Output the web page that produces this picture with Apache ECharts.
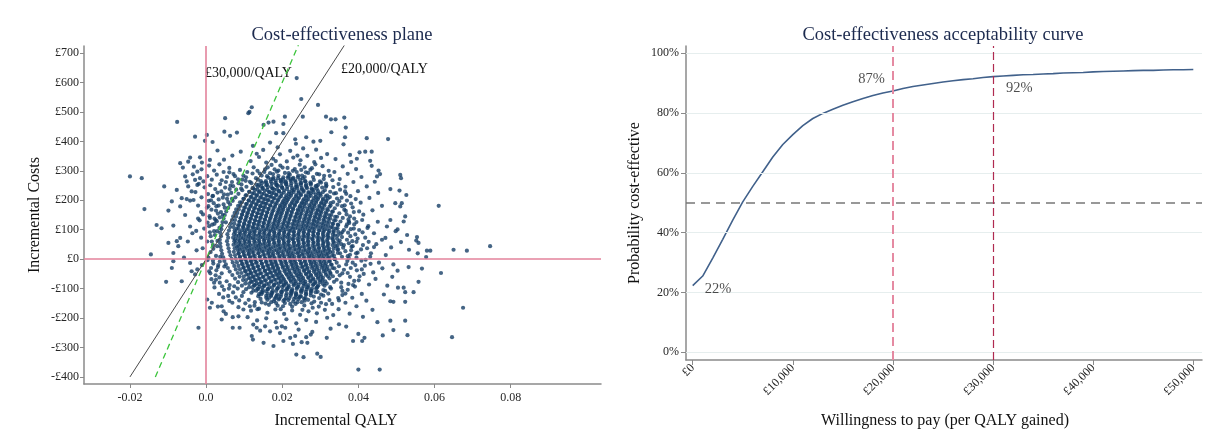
<!DOCTYPE html>
<html>
<head>
<meta charset="utf-8">
<script src="https://cdn.jsdelivr.net/npm/echarts@6/dist/echarts.min.js"></script>
<style>
html,body{margin:0;padding:0;background:#fff}
#chart{width:1223px;height:435px}
</style>
</head>
<body>
<div id="chart"></div>
<script>
// Probabilistic sensitivity analysis draws: [incremental QALY, incremental cost (£)]
const psaDraws = [
[-.0076,466],[-.0029,416],[.0002,422],[-.0003,402],[.0017,398],[.0050,479],[.0048,433],[.0063,419],[.0081,430],[.0111,496],[.0114,500],[.0120,516],[.0151,456],[.0164,464],[.0177,467],[.0203,459],[.0184,428],[.0203,428],[.0238,615],[.0250,544],[.0294,524],[.0254,484],[.0207,484],[.0315,484],[.0328,475],[.0340,475],[.0363,481],[.0367,447],[.0263,414],[.0422,411],[.0478,408],[.0329,431],[.0365,414],[.0361,390],[.0234,407],[.0282,399],[.0300,402],[.0030,369],[.0010,337],
[-.0042,345],[-.0047,331],[-.0016,346],[-.0011,328],[-.0068,326],[-.0061,311],[-.0032,314],[-.0023,297],[-.0200,281],[-.0169,275],[-.0110,247],[-.0077,235],[-.0090,196],[-.0064,207],[-.0051,204],[-.0042,199],[-.0033,201],[-.0162,170],[-.0099,165],[-.0068,179],[-.0130,116],[-.0117,105],[-.0086,114],[-.0042,111],[-.0055,281],[-.0051,264],[-.0047,247],[-.0038,230],[-.0029,269],[-.0023,252],[-.0016,275],[-.0007,264],[-.0145,16],[-.0099,55],[-.0077,61],[-.0073,44],[-.0086,21],[-.0068,72],[-.0086,-7],[-.0090,-30],[-.0042,-13],[-.0038,-41],[-.0029,-52],[-.0023,-35],[-.0105,-77],[-.0064,-75],[-.0020,-233],[-.0055,150],[-.0021,138],[-.0036,88],[-.0013,160],[-.0048,60],[-.0025,30],[-.0058,5],
[.0003,-137],[.0015,-148],[.0010,-165],[.0041,-160],[.0046,-177],[.0041,-205],[.0070,-197],[.0085,-194],[.0098,-171],[.0070,-233],[.0088,-233],[.0124,-222],[.0133,-233],[.0155,-228],[.0168,-245],[.0186,-233],[.0199,-228],[.0208,-233],[.0120,-261],[.0123,-273],[.0151,-284],[.0177,-295],[.0203,-278],[.0221,-267],[.0234,-261],[.0263,-265],[.0275,-256],[.0317,-267],[.0228,-288],[.0251,-282],[.0266,-284],[.0237,-324],[.0256,-333],[.0292,-321],[.0301,-332],[.0400,-375],[.0456,-375],[.0386,-278],[.0410,-278],[.0416,-267],[.0400,-254],[.0464,-259],[.0529,-258],[.0492,-241],[.0484,-209],[.0523,-209],[.0450,-214],[.0646,-265],[.0675,-165],
[.0746,44],[.0685,29],[.0650,32],[.0589,29],[.0580,29],[.0578,7],[.0556,20],[.0533,32],[.0554,75],[.0552,63],[.0558,55],[.0617,-47],[.0558,-77],[.0567,-32],[.0532,-27],[.0503,-39],[.0492,-18],[.0545,-112],[.0523,-112],[.0519,-97],[.0504,-97],[.0523,-145],[.0492,-145],[.0484,-143],[.0611,181],[.0510,286],[.0512,275],[.0526,218],[.0508,233],[.0484,238],[.0497,190],[.0510,179],[.0514,190],[.0453,301],[.0449,281],[.0457,289],[.0435,317],[.0431,334],[.0418,365],[.0435,365],[.0403,363],[.0396,341],[.0378,354],[.0523,145],[.0519,128],[.0484,133],[.0475,111],[.0498,95],[.0471,72],[.0512,58],[.0489,-60],[.0476,-90],[.0467,-120],[.0503,101],[.0528,82],
[-.0012,305],[.0008,318],[.0021,301],[.0035,322],[.0046,296],[.0061,310],[.0072,289],[.0089,303],[.0098,284],[-.0035,288],[.0003,282],[.0015,270],[.0028,287],[.0041,268],[.0055,279],[.0068,262],[.0084,271],[.0104,266],[-.0019,256],[-.0004,244],[.0011,251],[.0024,238],[.0037,255],[.0050,243],[.0064,250],[.0079,236],[.0093,254],[-.0028,228],[.0005,221],[.0017,214],[.0030,226],[.0044,209],[.0057,219],[.0068,205],[-.0012,210],[.0007,198],[.0020,190],[.0033,203],[.0046,186],[.0058,194],[-.0021,182],[.0002,175],[.0014,168],[.0027,180],[.0039,160],[-.0008,152],[.0009,146],[.0022,138],[.0031,155],[-.0017,132],[.0004,124],[.0016,117],[.0028,129],[-.0026,96],[-.0005,104],[.0010,91],[.0023,82],[-.0013,73],[.0003,60],[.0018,48],[-.0009,37],[.0012,24],[.0026,11],[.0004,-3],[.0019,-15],[.0031,-27],[-.0011,-20],[.0008,-41],[.0025,-55],[.0014,-68],[.0036,-80],[.0022,-96],[.0047,-104],[.0034,-118],[.0058,-125],[.0071,-113],
[.0372,-104],[.0391,-93],[.0358,-122],[.0384,-131],[.0409,-118],[.0366,-148],[.0395,-160],[.0421,-141],[.0348,-170],[.0377,-185],[.0412,-196],[.0437,-172],[.0389,-74],[.0403,-58],[.0428,-86],[.0445,-67],[.0396,-38],[.0417,-22],[.0439,-45],[.0463,-31],[.0408,-5],[.0431,8],[.0454,-12],[.0472,14],[.0398,22],[.0423,37],[.0447,51],[.0486,40],[.0395,59],[.0418,73],[.0441,88],[.0462,66],[.0402,99],[.0426,112],[.0451,127],[.0389,138],[.0413,151],[.0437,166],[.0462,181],[.0385,176],[.0406,192],[.0429,208],[.0452,225],[.0379,214],[.0399,231],[.0422,247],[.0443,263],[.0366,246],[.0387,262],[.0408,279],[.0351,272],[.0372,290],[.0394,306],[.0337,296],[.0359,315],[.0381,330],
[.0108,296],[.0125,312],[.0141,291],[.0155,305],[.0172,320],[.0186,297],[.0201,311],[.0217,292],[.0233,306],[.0246,321],[.0262,295],[.0278,309],[.0291,290],[.0306,316],[.0322,300],[.0117,333],[.0139,347],[.0158,328],[.0176,341],[.0194,356],[.0212,332],[.0229,345],[.0248,336],[.0266,351],[.0284,330],[.0302,344],[.0318,357],[.0150,371],[.0188,380],[.0221,368],[.0255,376],[.0289,372],[.0069,352],[.0091,365],[.0047,338],[.0340,340],[.0236,392],[.0168,396],[.0123,385],
[.0103,-150],[.0127,-158],[.0146,-147],[.0165,-155],[.0184,-149],[.0202,-160],[.0221,-152],[.0240,-146],[.0258,-157],[.0277,-150],[.0296,-161],[.0315,-153],[.0085,-163],[.0118,-175],[.0139,-168],[.0161,-182],[.0182,-171],[.0205,-186],[.0226,-174],[.0247,-189],[.0269,-177],[.0291,-184],[.0312,-172],[.0334,-190],[.0109,-197],[.0134,-208],[.0158,-201],[.0183,-214],[.0211,-204],[.0237,-218],[.0263,-207],[.0289,-213],[.0318,-199],[.0349,-221],[.0142,-243],[.0194,-251],[.0243,-239],[.0279,-247],[.0327,-236],[.0368,-229],[.0061,-142],[.0052,-186],[.0031,-161],
[.0012,78],[.0021,95],[.0008,112],[.0025,133],[.0015,60],[.0029,44],[.0006,5],[.0018,-5],[.0027,-38],[.0013,-30],[.0035,-62],[.0021,-80],[.0042,-92],[.0006,180],[.0026,165],[.0049,175],[.0036,142],[.0013,200],[.0040,230],[.0062,238],[.0052,262],[.0076,282],[.0061,295],
[.0135,300],[.0168,292],[.0195,318],[.0228,300],[.0259,312],[.0287,322],[.0183,333],[.0240,352],[.0133,358],[.0310,283],[.0332,268],[.0315,257],
[.0395,5],[.0412,48],[.0392,84],[.0389,118],[.0392,-20],[.0378,-60],[.0355,-95],[.0347,-132],[.0365,230],[.0348,255],
[.0386,-88],[.0401,-72],[.0372,-47],[.0409,-35],[.0385,-12],[.0419,-2],[.0394,20],[.0407,33],[.0385,44],[.0427,59],[.0398,70],[.0411,91],[.0388,104],[.0424,106],[.0395,126],[.0410,133],[.0378,145],[.0402,162],[.0381,189],[.0393,204],[.0370,199],[.0364,183],[.0356,209],[.0368,222],[.0352,236],[.0341,224],[.0334,245],[.0358,-108],[.0374,-84],[.0366,-117],[.0349,-140],[.0331,-152],[.0355,-80],[.0380,-30],[.0372,10],[.0362,48],[.0358,92],[.0370,118],[.0388,160],[.0375,128],[.0433,20],[.0414,-50],[.0441,41],[.0432,-16],
[.0026,-70],[.0041,-48],[.0032,-20],[.0019,35],[.0030,62],[.0022,120],[.0035,106],[.0044,150],[.0033,182],[.0055,205],[.0047,220],[.0066,225],[.0071,248],[.0085,258],[.0092,240],[.0060,-100],[.0054,-75],[.0045,-130],[.0078,-130],[.0069,-148],[.0011,-48],[.0048,-25],[.0037,8],[.0029,95],[.0010,140],[.0052,125],[.0018,215],[.0036,-8],[.0062,-88],
[.0105,278],[.0122,291],[.0146,284],[.0131,275],[.0153,296],[.0176,289],[.0190,301],[.0207,293],[.0220,287],[.0238,296],[.0252,284],[.0268,293],[.0281,279],[.0297,288],[.0309,272],[.0325,283],[.0299,264],[.0316,250],[.0115,263],[.0095,270],[.0180,305],[.0214,310],[.0250,303],[.0162,312],[.0274,304],
[.0094,-125],[.0112,-138],[.0128,-146],[.0143,-135],[.0156,-151],[.0171,-146],[.0188,-158],[.0207,-149],[.0226,-161],[.0235,-152],[.0251,-146],[.0268,-138],[.0284,-144],[.0297,-132],[.0308,-124],[.0321,-117],[.0324,-139],[.0302,-148],[.0115,-160],[.0135,-170],[.0196,-170],[.0253,-172],[.0280,-165],[.0087,-140],[.0313,-108],[.0328,-100],[.0098,-112],[.0083,-100],[.0074,-92],
[.0161,-138],[.0178,-143],[.0191,-137],[.0203,-142],[.0216,-139],[.0229,-144],[.0242,-136],[.0259,-141],
[.0137,-126],[.0158,-131],[.0171,-125],[.0183,-130],[.0196,-127],[.0210,-132],[.0222,-124],[.0235,-129],[.0247,-126],[.0261,-131],[.0283,-127],
[.0119,-114],[.0139,-119],[.0148,-113],[.0162,-118],[.0174,-115],[.0187,-120],[.0199,-112],[.0212,-117],[.0225,-114],[.0237,-119],[.0250,-113],[.0263,-118],[.0275,-115],[.0293,-111],[.0302,-120],
[.0105,-102],[.0124,-107],[.0137,-101],[.0149,-106],[.0162,-103],[.0175,-108],[.0188,-100],[.0201,-105],[.0213,-102],[.0226,-107],[.0238,-101],[.0252,-106],[.0264,-103],[.0277,-108],[.0289,-100],[.0308,-105],
[.0094,-90],[.0113,-95],[.0128,-89],[.0140,-94],[.0153,-91],[.0166,-96],[.0179,-88],[.0191,-93],[.0204,-90],[.0217,-95],[.0230,-89],[.0242,-94],[.0256,-91],[.0268,-96],[.0281,-88],[.0293,-93],[.0311,-90],[.0326,-95],
[.0084,-78],[.0103,-83],[.0121,-77],[.0133,-82],[.0146,-79],[.0159,-84],[.0172,-76],[.0184,-81],[.0197,-78],[.0210,-83],[.0223,-77],[.0236,-82],[.0248,-79],[.0261,-84],[.0274,-76],[.0287,-81],[.0299,-78],[.0317,-83],[.0336,-77],
[.0076,-66],[.0097,-71],[.0116,-65],[.0128,-70],[.0141,-67],[.0154,-72],[.0167,-64],[.0179,-69],[.0192,-66],[.0205,-71],[.0218,-65],[.0231,-70],[.0243,-67],[.0256,-72],[.0269,-64],[.0282,-69],[.0294,-66],[.0306,-71],[.0324,-65],[.0343,-70],
[.0069,-54],[.0088,-59],[.0111,-53],[.0123,-58],[.0136,-55],[.0149,-60],[.0161,-52],[.0174,-57],[.0187,-54],[.0200,-59],[.0212,-53],[.0225,-58],[.0238,-55],[.0251,-60],[.0263,-52],[.0276,-57],[.0289,-54],[.0302,-59],[.0315,-53],[.0333,-58],[.0351,-55],
[.0062,-42],[.0083,-47],[.0104,-41],[.0117,-46],[.0130,-43],[.0142,-48],[.0155,-40],[.0168,-45],[.0181,-42],[.0193,-47],[.0206,-41],[.0219,-46],[.0232,-43],[.0245,-48],[.0257,-40],[.0270,-45],[.0283,-42],[.0296,-47],[.0309,-41],[.0326,-46],[.0344,-43],[.0358,-48],
[.0057,-30],[.0078,-35],[.0099,-29],[.0112,-34],[.0125,-31],[.0138,-36],[.0150,-28],[.0163,-33],[.0176,-30],[.0189,-35],[.0201,-29],[.0214,-34],[.0227,-31],[.0240,-36],[.0252,-28],[.0265,-33],[.0278,-30],[.0291,-35],[.0304,-29],[.0317,-34],[.0337,-31],[.0362,-36],
[.0052,-18],[.0074,-23],[.0096,-17],[.0109,-22],[.0122,-19],[.0135,-24],[.0147,-16],[.0160,-21],[.0173,-18],[.0186,-23],[.0198,-17],[.0211,-22],[.0224,-19],[.0237,-24],[.0249,-16],[.0262,-21],[.0275,-18],[.0288,-23],[.0300,-17],[.0313,-22],[.0330,-19],[.0349,-24],[.0368,-18],
[.0048,-6],[.0070,-11],[.0093,-5],[.0106,-10],[.0119,-7],[.0131,-12],[.0144,-4],[.0157,-9],[.0170,-6],[.0182,-11],[.0195,-5],[.0208,-10],[.0221,-7],[.0233,-12],[.0246,-4],[.0259,-9],[.0272,-6],[.0284,-11],[.0297,-5],[.0310,-10],[.0323,-7],[.0343,-12],[.0371,-6],
[.0045,6],[.0067,1],[.0089,7],[.0103,2],[.0116,5],[.0128,0],[.0141,8],[.0154,3],[.0167,6],[.0179,1],[.0192,7],[.0205,2],[.0218,5],[.0230,0],[.0243,8],[.0256,3],[.0269,6],[.0281,1],[.0294,7],[.0307,2],[.0320,5],[.0338,0],[.0357,8],[.0375,3],
[.0042,18],[.0064,13],[.0085,19],[.0099,14],[.0112,17],[.0124,12],[.0137,20],[.0150,15],[.0163,18],[.0175,13],[.0188,19],[.0201,14],[.0214,17],[.0226,12],[.0239,20],[.0252,15],[.0265,18],[.0277,13],[.0290,19],[.0303,14],[.0316,17],[.0331,12],[.0352,20],[.0378,15],
[.0040,30],[.0061,25],[.0083,31],[.0096,26],[.0109,29],[.0121,24],[.0134,32],[.0147,27],[.0160,30],[.0172,25],[.0185,31],[.0198,26],[.0211,29],[.0223,24],[.0236,32],[.0249,27],[.0262,30],[.0274,25],[.0287,31],[.0300,26],[.0313,29],[.0326,24],[.0345,32],[.0366,27],[.0381,30],
[.0038,42],[.0059,37],[.0081,43],[.0093,38],[.0106,41],[.0119,36],[.0132,44],[.0144,39],[.0157,42],[.0170,37],[.0183,43],[.0195,38],[.0208,41],[.0221,36],[.0234,44],[.0246,39],[.0259,42],[.0272,37],[.0285,43],[.0297,38],[.0310,41],[.0323,36],[.0340,44],[.0360,39],[.0382,42],
[.0037,54],[.0057,49],[.0078,55],[.0091,50],[.0104,53],[.0116,48],[.0129,56],[.0142,51],[.0155,54],[.0167,49],[.0180,55],[.0193,50],[.0206,53],[.0218,48],[.0231,56],[.0244,51],[.0257,54],[.0269,49],[.0282,55],[.0295,50],[.0308,53],[.0320,48],[.0336,56],[.0355,51],[.0375,54],
[.0036,66],[.0055,61],[.0076,67],[.0089,62],[.0102,65],[.0114,60],[.0127,68],[.0140,63],[.0153,66],[.0165,61],[.0178,67],[.0191,62],[.0204,65],[.0216,60],[.0229,68],[.0242,63],[.0255,66],[.0267,61],[.0280,67],[.0293,62],[.0306,65],[.0318,60],[.0333,68],[.0351,63],[.0370,66],[.0384,61],
[.0039,78],[.0058,73],[.0079,79],[.0092,74],[.0105,77],[.0117,72],[.0130,80],[.0143,75],[.0156,78],[.0168,73],[.0181,79],[.0194,74],[.0207,77],[.0219,72],[.0232,80],[.0245,75],[.0258,78],[.0270,73],[.0283,79],[.0296,74],[.0309,77],[.0321,72],[.0338,80],[.0357,75],[.0379,78],
[.0037,90],[.0056,85],[.0077,91],[.0090,86],[.0103,89],[.0115,84],[.0128,92],[.0141,87],[.0154,90],[.0166,85],[.0179,91],[.0192,86],[.0205,89],[.0217,84],[.0230,92],[.0243,87],[.0256,90],[.0268,85],[.0281,91],[.0294,86],[.0307,89],[.0319,84],[.0335,92],[.0354,87],[.0373,90],
[.0040,102],[.0060,97],[.0080,103],[.0094,98],[.0107,101],[.0119,96],[.0132,104],[.0145,99],[.0158,102],[.0170,97],[.0183,103],[.0196,98],[.0209,101],[.0221,96],[.0234,104],[.0247,99],[.0260,102],[.0272,97],[.0285,103],[.0298,98],[.0311,101],[.0324,96],[.0341,104],[.0362,99],[.0380,102],
[.0041,114],[.0063,109],[.0084,115],[.0097,110],[.0110,113],[.0122,108],[.0135,116],[.0148,111],[.0161,114],[.0173,109],[.0186,115],[.0199,110],[.0212,113],[.0224,108],[.0237,116],[.0250,111],[.0263,114],[.0275,109],[.0288,115],[.0301,110],[.0314,113],[.0328,108],[.0347,116],[.0368,111],
[.0043,126],[.0065,121],[.0087,127],[.0100,122],[.0113,125],[.0125,120],[.0138,128],[.0151,123],[.0164,126],[.0176,121],[.0189,127],[.0202,122],[.0215,125],[.0227,120],[.0240,128],[.0253,123],[.0266,126],[.0278,121],[.0291,127],[.0304,122],[.0317,125],[.0332,120],[.0353,128],[.0376,123],
[.0046,138],[.0068,133],[.0090,139],[.0104,134],[.0117,137],[.0129,132],[.0142,140],[.0155,135],[.0168,138],[.0180,133],[.0193,139],[.0206,134],[.0219,137],[.0231,132],[.0244,140],[.0257,135],[.0270,138],[.0282,133],[.0295,139],[.0308,134],[.0321,137],[.0340,132],[.0359,140],[.0374,135],
[.0049,150],[.0071,145],[.0094,151],[.0107,146],[.0120,149],[.0132,144],[.0145,152],[.0158,147],[.0171,150],[.0183,145],[.0196,151],[.0209,146],[.0222,149],[.0234,144],[.0247,152],[.0260,147],[.0273,150],[.0285,145],[.0298,151],[.0311,146],[.0324,149],[.0344,144],[.0369,152],
[.0053,162],[.0075,157],[.0097,163],[.0110,158],[.0123,161],[.0136,156],[.0148,164],[.0161,159],[.0174,162],[.0187,157],[.0199,163],[.0212,158],[.0225,161],[.0238,156],[.0250,164],[.0263,159],[.0276,162],[.0289,157],[.0301,163],[.0314,158],[.0331,161],[.0350,156],[.0367,164],
[.0058,174],[.0079,169],[.0100,175],[.0113,170],[.0126,173],[.0139,168],[.0151,176],[.0164,171],[.0177,174],[.0190,169],[.0202,175],[.0215,170],[.0228,173],[.0241,168],[.0253,176],[.0266,171],[.0279,174],[.0292,169],[.0305,175],[.0318,170],[.0338,173],[.0363,168],
[.0063,186],[.0084,181],[.0105,187],[.0118,182],[.0131,185],[.0143,180],[.0156,188],[.0169,183],[.0182,186],[.0194,181],[.0207,187],[.0220,182],[.0233,185],[.0246,180],[.0258,188],[.0271,183],[.0284,186],[.0297,181],[.0310,187],[.0327,182],[.0345,185],[.0357,180],
[.0070,198],[.0089,193],[.0112,199],[.0124,194],[.0137,197],[.0150,192],[.0162,200],[.0175,195],[.0188,198],[.0201,193],[.0213,199],[.0226,194],[.0239,197],[.0252,192],[.0264,200],[.0277,195],[.0290,198],[.0303,193],[.0316,199],[.0334,194],[.0350,197],
[.0077,210],[.0098,205],[.0117,211],[.0129,206],[.0142,209],[.0155,204],[.0168,212],[.0180,207],[.0193,210],[.0206,205],[.0219,211],[.0232,206],[.0244,209],[.0257,204],[.0270,212],[.0283,207],[.0295,210],[.0307,205],[.0325,211],[.0344,206],
[.0085,222],[.0104,217],[.0122,223],[.0134,218],[.0147,221],[.0160,216],[.0173,224],[.0185,219],[.0198,222],[.0211,217],[.0224,223],[.0237,218],[.0249,221],[.0262,216],[.0275,224],[.0288,219],[.0300,222],[.0318,217],[.0336,223],
[.0095,234],[.0114,229],[.0128,235],[.0141,230],[.0154,233],[.0167,228],[.0179,236],[.0192,231],[.0205,234],[.0218,229],[.0231,235],[.0243,230],[.0256,233],[.0269,228],[.0282,236],[.0294,231],[.0312,234],[.0326,229],
[.0106,246],[.0124,241],[.0136,247],[.0149,242],[.0162,245],[.0175,240],[.0188,248],[.0200,243],[.0213,246],[.0226,241],[.0239,247],[.0251,242],[.0264,245],[.0277,240],[.0290,248],[.0305,243],[.0315,246],
[.0119,258],[.0139,253],[.0147,259],[.0160,254],[.0173,257],[.0186,252],[.0199,260],[.0211,255],[.0224,258],[.0237,253],[.0250,259],[.0263,254],[.0275,257],[.0294,252],[.0302,260],
[.0136,270],[.0157,265],[.0170,271],[.0183,266],[.0196,269],[.0209,264],[.0222,272],[.0234,267],[.0247,270],[.0260,265],[.0283,269],
[.0160,282],[.0177,277],[.0190,283],[.0203,278],[.0216,281],[.0229,276],[.0242,284],[.0259,279],
[.0166,-131],[.0180,-136],[.0192,-133],[.0206,-137],[.0219,-132],[.0231,-135],[.0245,-130],[.0257,-134],
[.0145,-119],[.0158,-124],[.0171,-121],[.0185,-125],[.0197,-120],[.0210,-123],[.0223,-118],[.0236,-122],[.0249,-126],[.0262,-120],[.0275,-123],
[.0132,-107],[.0145,-112],[.0158,-109],[.0172,-113],[.0184,-108],[.0197,-111],[.0210,-106],[.0223,-110],[.0236,-114],[.0249,-108],[.0262,-111],[.0275,-107],[.0288,-112],
[.0122,-95],[.0135,-100],[.0148,-97],[.0162,-101],[.0174,-96],[.0187,-99],[.0200,-94],[.0213,-98],[.0226,-102],[.0239,-96],[.0252,-99],[.0265,-95],[.0278,-100],[.0291,-97],
[.0113,-83],[.0126,-88],[.0139,-85],[.0152,-89],[.0165,-84],[.0178,-87],[.0191,-82],[.0204,-86],[.0217,-90],[.0230,-84],[.0243,-87],[.0256,-83],[.0269,-88],[.0282,-85],[.0295,-89],[.0307,-84],
[.0105,-71],[.0118,-76],[.0131,-73],[.0144,-77],[.0157,-72],[.0170,-75],[.0183,-70],[.0196,-74],[.0209,-78],[.0222,-72],[.0235,-75],[.0248,-71],[.0261,-76],[.0274,-73],[.0287,-77],[.0300,-72],[.0313,-75],
[.0099,-59],[.0112,-64],[.0125,-61],[.0138,-65],[.0151,-60],[.0164,-63],[.0177,-58],[.0190,-62],[.0203,-66],[.0216,-60],[.0229,-63],[.0242,-59],[.0255,-64],[.0268,-61],[.0281,-65],[.0294,-60],[.0307,-63],[.0320,-58],
[.0093,-47],[.0106,-52],[.0119,-49],[.0132,-53],[.0145,-48],[.0158,-51],[.0171,-46],[.0184,-50],[.0197,-54],[.0210,-48],[.0223,-51],[.0236,-47],[.0249,-52],[.0262,-49],[.0275,-53],[.0288,-48],[.0301,-51],[.0314,-46],[.0327,-50],
[.0089,-35],[.0102,-40],[.0115,-37],[.0128,-41],[.0141,-36],[.0154,-39],[.0167,-34],[.0180,-38],[.0193,-42],[.0206,-36],[.0219,-39],[.0232,-35],[.0245,-40],[.0258,-37],[.0271,-41],[.0284,-36],[.0297,-39],[.0310,-34],[.0323,-38],
[.0085,-23],[.0098,-28],[.0111,-25],[.0124,-29],[.0137,-24],[.0150,-27],[.0163,-22],[.0176,-26],[.0189,-30],[.0202,-24],[.0215,-27],[.0228,-23],[.0241,-28],[.0254,-25],[.0267,-29],[.0280,-24],[.0293,-27],[.0306,-22],[.0319,-26],[.0332,-30],
[.0081,-11],[.0094,-16],[.0107,-13],[.0120,-17],[.0133,-12],[.0146,-15],[.0159,-10],[.0172,-14],[.0185,-18],[.0198,-12],[.0211,-15],[.0224,-11],[.0237,-16],[.0250,-13],[.0263,-17],[.0276,-12],[.0289,-15],[.0302,-10],[.0315,-14],[.0328,-18],
[.0078,1],[.0091,-4],[.0104,-1],[.0117,-5],[.0130,0],[.0143,-3],[.0156,2],[.0169,-2],[.0182,-6],[.0195,0],[.0208,-3],[.0221,1],[.0234,-4],[.0247,-1],[.0260,-5],[.0273,0],[.0286,-3],[.0299,2],[.0312,-2],[.0325,-6],[.0338,0],
[.0076,13],[.0089,8],[.0102,11],[.0115,7],[.0128,12],[.0141,9],[.0154,14],[.0167,10],[.0180,6],[.0193,12],[.0206,9],[.0219,13],[.0232,8],[.0245,11],[.0258,7],[.0271,12],[.0284,9],[.0297,14],[.0310,10],[.0323,6],[.0336,12],
[.0073,25],[.0086,20],[.0099,23],[.0112,19],[.0125,24],[.0138,21],[.0151,26],[.0164,22],[.0177,18],[.0190,24],[.0203,21],[.0216,25],[.0229,20],[.0242,23],[.0255,19],[.0268,24],[.0281,21],[.0294,26],[.0307,22],[.0320,18],[.0333,24],[.0346,21],
[.0075,37],[.0088,32],[.0101,35],[.0114,31],[.0127,36],[.0140,33],[.0153,38],[.0166,34],[.0179,30],[.0192,36],[.0205,33],[.0218,37],[.0231,32],[.0244,35],[.0257,31],[.0270,36],[.0283,33],[.0296,38],[.0309,34],[.0322,30],[.0335,36],[.0347,33],
[.0072,49],[.0085,44],[.0098,47],[.0111,43],[.0124,48],[.0137,45],[.0150,50],[.0163,46],[.0176,42],[.0189,48],[.0202,45],[.0215,49],[.0228,44],[.0241,47],[.0254,43],[.0267,48],[.0280,45],[.0293,50],[.0306,46],[.0319,42],[.0332,48],[.0345,45],
[.0074,61],[.0087,56],[.0100,59],[.0113,55],[.0126,60],[.0139,57],[.0152,62],[.0165,58],[.0178,54],[.0191,60],[.0204,57],[.0217,61],[.0230,56],[.0243,59],[.0256,55],[.0269,60],[.0282,57],[.0295,62],[.0308,58],[.0321,54],[.0334,60],[.0347,57],
[.0071,73],[.0084,68],[.0097,71],[.0110,67],[.0123,72],[.0136,69],[.0149,74],[.0162,70],[.0175,66],[.0188,72],[.0201,69],[.0214,73],[.0227,68],[.0240,71],[.0253,67],[.0266,72],[.0279,69],[.0292,74],[.0305,70],[.0318,66],[.0331,72],[.0344,69],
[.0073,85],[.0086,80],[.0099,83],[.0112,79],[.0125,84],[.0138,81],[.0151,86],[.0164,82],[.0177,78],[.0190,84],[.0203,81],[.0216,85],[.0229,80],[.0242,83],[.0255,79],[.0268,84],[.0281,81],[.0294,86],[.0307,82],[.0320,78],[.0333,84],[.0346,81],
[.0075,97],[.0088,92],[.0101,95],[.0114,91],[.0127,96],[.0140,93],[.0153,98],[.0166,94],[.0179,90],[.0192,96],[.0205,93],[.0218,97],[.0231,92],[.0244,95],[.0257,91],[.0270,96],[.0283,93],[.0296,98],[.0309,94],[.0322,90],[.0335,96],[.0347,93],
[.0072,109],[.0085,104],[.0098,107],[.0111,103],[.0124,108],[.0137,105],[.0150,110],[.0163,106],[.0176,102],[.0189,108],[.0202,105],[.0215,109],[.0228,104],[.0241,107],[.0254,103],[.0267,108],[.0280,105],[.0293,110],[.0306,106],[.0319,102],[.0332,108],[.0345,105],
[.0074,121],[.0087,116],[.0100,119],[.0113,115],[.0126,120],[.0139,117],[.0152,122],[.0165,118],[.0178,114],[.0191,120],[.0204,117],[.0217,121],[.0230,116],[.0243,119],[.0256,115],[.0269,120],[.0282,117],[.0295,122],[.0308,118],[.0321,114],[.0334,120],[.0346,117],
[.0076,133],[.0089,128],[.0102,131],[.0115,127],[.0128,132],[.0141,129],[.0154,134],[.0167,130],[.0180,126],[.0193,132],[.0206,129],[.0219,133],[.0232,128],[.0245,131],[.0258,127],[.0271,132],[.0284,129],[.0297,134],[.0310,130],[.0323,126],[.0336,132],
[.0079,145],[.0092,140],[.0105,143],[.0118,139],[.0131,144],[.0144,141],[.0157,146],[.0170,142],[.0183,138],[.0196,144],[.0209,141],[.0222,145],[.0235,140],[.0248,143],[.0261,139],[.0274,144],[.0287,141],[.0300,146],[.0313,142],[.0326,138],[.0339,144],
[.0082,157],[.0095,152],[.0108,155],[.0121,151],[.0134,156],[.0147,153],[.0160,158],[.0173,154],[.0186,150],[.0199,156],[.0212,153],[.0225,157],[.0238,152],[.0251,155],[.0264,151],[.0277,156],[.0290,153],[.0303,158],[.0316,154],[.0329,150],
[.0086,169],[.0099,164],[.0112,167],[.0125,163],[.0138,168],[.0151,165],[.0164,170],[.0177,166],[.0190,162],[.0203,168],[.0216,165],[.0229,169],[.0242,164],[.0255,167],[.0268,163],[.0281,168],[.0294,165],[.0307,170],[.0320,166],[.0333,162],
[.0090,181],[.0103,176],[.0116,179],[.0129,175],[.0142,180],[.0155,177],[.0168,182],[.0181,178],[.0194,174],[.0207,180],[.0220,177],[.0233,181],[.0246,176],[.0259,179],[.0272,175],[.0285,180],[.0298,177],[.0311,182],[.0324,178],
[.0094,193],[.0107,188],[.0120,191],[.0133,187],[.0146,192],[.0159,189],[.0172,194],[.0185,190],[.0198,186],[.0211,192],[.0224,189],[.0237,193],[.0250,188],[.0263,191],[.0276,187],[.0289,192],[.0302,189],[.0315,194],[.0327,190],
[.0099,205],[.0112,200],[.0125,203],[.0138,199],[.0151,204],[.0164,201],[.0177,206],[.0190,202],[.0203,198],[.0216,204],[.0229,201],[.0242,205],[.0255,200],[.0268,203],[.0281,199],[.0294,204],[.0307,201],[.0320,206],
[.0106,217],[.0119,212],[.0132,215],[.0145,211],[.0158,216],[.0171,213],[.0184,218],[.0197,214],[.0210,210],[.0223,216],[.0236,213],[.0249,217],[.0262,212],[.0275,215],[.0288,211],[.0301,216],[.0314,213],
[.0113,229],[.0126,224],[.0139,227],[.0152,223],[.0165,228],[.0178,225],[.0191,230],[.0204,226],[.0217,222],[.0230,228],[.0243,225],[.0256,229],[.0269,224],[.0282,227],[.0295,223],[.0307,228],
[.0122,241],[.0135,236],[.0148,239],[.0161,235],[.0174,240],[.0187,237],[.0200,242],[.0213,238],[.0226,234],[.0239,240],[.0252,237],[.0265,241],[.0278,236],[.0291,239],
[.0132,253],[.0145,248],[.0158,251],[.0171,247],[.0184,252],[.0197,249],[.0210,254],[.0223,250],[.0236,246],[.0249,252],[.0262,249],[.0275,253],[.0288,248],
[.0144,265],[.0157,260],[.0170,263],[.0183,259],[.0196,264],[.0209,261],[.0222,266],[.0235,262],[.0248,258],[.0261,264],[.0274,261],
[.0163,277],[.0176,272],[.0189,275],[.0202,271],[.0215,276],[.0228,273],[.0241,278],[.0254,274]
];

// Willingness-to-pay thresholds (£ per QALY) drawn on the plane
const wtpThresholds = [30000, 20000];
const thresholdCostSpan = [-400, 730];

// Cost-effectiveness plane ticks
const qalyTicks = [-0.02, 0, 0.02, 0.04, 0.06, 0.08];
const costTicks = [-400, -300, -200, -100, 0, 100, 200, 300, 400, 500, 600, 700];

// Acceptability curve: willingness to pay (£) and probability cost-effective (%)
const wtpGrid = [0,1000,2000,3000,4000,5000,6000,7000,8000,9000,10000,11000,12000,13000,14000,15000,16000,17000,18000,19000,20000,21000,22000,23000,24000,25000,26000,27000,28000,29000,30000,31000,32000,33000,34000,35000,36000,37000,38000,39000,40000,41000,42000,43000,44000,45000,46000,47000,48000,49000,50000];
const probCostEffective = [22.3,25.5,31.5,37.8,44.2,50.3,55.5,60.4,65.3,69.5,72.8,75.8,78.2,79.9,81.3,82.6,83.8,84.9,85.9,86.7,87.4,88.2,88.9,89.4,89.9,90.4,90.8,91.2,91.5,91.9,92.2,92.4,92.6,92.8,92.9,93.1,93.2,93.4,93.5,93.6,93.8,93.9,94.0,94.1,94.2,94.3,94.3,94.4,94.5,94.5,94.6];
const wtpTicks = [0, 10000, 20000, 30000, 40000, 50000];
const probTicks = [0, 20, 40, 60, 80, 100];
const annotatedWtp = [0, 20000, 30000];
const decisionLevel = 50;

const SERIF = '"Liberation Serif", "Times New Roman", serif';
const AXIS_GREY = '#8a8a8a';
const NAVY = '#173f66';

function gbp(v) {
  const s = String(Math.abs(v)).replace(/\B(?=(\d{3})+(?!\d))/g, ',');
  return (v < 0 ? '-£' : '£') + s;
}

function valueAxis(gridIndex, min, max, ticks, formatter, labelExtra, tickLen) {
  return {
    type: 'value', gridIndex, min, max,
    axisLine: { show: true, onZero: false, lineStyle: { color: AXIS_GREY, width: 1.5 } },
    axisTick: { show: true, customValues: ticks, length: tickLen, lineStyle: { color: AXIS_GREY, width: 1 } },
    axisLabel: Object.assign({ customValues: ticks, formatter, fontFamily: SERIF, fontSize: 12, color: '#262626' }, labelExtra),
    splitLine: { show: false }
  };
}

const chart = echarts.init(document.getElementById('chart'), null, { renderer: 'canvas' });

const thresholdStyles = {
  30000: { color: '#3cc43c', width: 1.3, type: [6, 4] },
  20000: { color: '#4a4a4a', width: 1, type: 'solid' }
};

const ceacPoints = wtpGrid.map((w, i) => [w, probCostEffective[i]]);
const annotationPlacement = {
  0: { position: 'right', distance: 12, offset: [0, 4] },
  20000: { position: 'left', distance: 8, offset: [0, -12] },
  30000: { position: 'right', distance: 13, offset: [0, 12] }
};

const option = {
  animation: false,
  backgroundColor: '#ffffff',
  grid: [
    { left: 84, top: 46, width: 517, height: 338 },
    { left: 686, top: 46, width: 516, height: 314 }
  ],
  xAxis: [
    valueAxis(0, -0.03207, 0.10373, qalyTicks, v => (v === 0 ? '0.0' : String(v)), { margin: 8 }, 4),
    valueAxis(1, -669, 50869, wtpTicks, v => gbp(v), { rotate: 45, margin: 6 }, 5)
  ],
  yAxis: [
    valueAxis(0, -424, 724, costTicks, v => gbp(v), { margin: 5 }, 4),
    valueAxis(1, -2.58, 102.44, probTicks, v => v + '%', { margin: 7 }, 5)
  ],
  series: [
    {
      // origin reference lines on the plane
      type: 'line', xAxisIndex: 0, yAxisIndex: 0, data: [], z: 1,
      markLine: {
        silent: true, symbol: ['none', 'none'], label: { show: false },
        lineStyle: { color: '#e3829b', width: 1.6, type: 'solid' },
        data: [{ xAxis: 0 }, { yAxis: 0 }]
      }
    },
    {
      type: 'scatter', xAxisIndex: 0, yAxisIndex: 0, z: 3,
      symbol: 'circle', symbolSize: 4.2,
      itemStyle: { color: NAVY },
      data: psaDraws
    },
    ...wtpThresholds.map(l => ({
      type: 'line', xAxisIndex: 0, yAxisIndex: 0, z: 4, clip: true,
      showSymbol: false, silent: true,
      lineStyle: thresholdStyles[l],
      data: thresholdCostSpan.map(c => [c / l, c])
    })),
    {
      // horizontal gridlines on the acceptability panel
      type: 'line', xAxisIndex: 1, yAxisIndex: 1, data: [], z: 1,
      markLine: {
        silent: true, symbol: ['none', 'none'], label: { show: false },
        lineStyle: { color: '#e6eeee', width: 1, type: 'solid' },
        data: probTicks.map(p => ({ yAxis: p }))
      }
    },
    {
      type: 'line', xAxisIndex: 1, yAxisIndex: 1, z: 3,
      data: [], markLine: {
        silent: true, symbol: ['none', 'none'], label: { show: false },
        data: [
          { yAxis: decisionLevel, lineStyle: { color: '#777777', width: 1.6, type: [9, 6] } },
          { xAxis: 20000, lineStyle: { color: '#e58aa2', width: 2, type: [9, 5] } },
          { xAxis: 30000, lineStyle: { color: '#b02a50', width: 1.2, type: [8, 4] } }
        ]
      }
    },
    {
      type: 'line', xAxisIndex: 1, yAxisIndex: 1, z: 4,
      showSymbol: false, silent: true,
      lineStyle: { color: '#41618b', width: 1.6 },
      data: ceacPoints
    },
    {
      type: 'scatter', xAxisIndex: 1, yAxisIndex: 1, z: 5,
      symbolSize: 0, silent: true,
      data: annotatedWtp.map(w => {
        const p = probCostEffective[wtpGrid.indexOf(w)];
        const pl = annotationPlacement[w];
        return {
          value: [w, p],
          label: {
            show: true, position: pl.position, distance: pl.distance, offset: pl.offset,
            formatter: Math.round(p) + '%', fontFamily: SERIF, fontSize: 14.5, color: '#1f1f1f'
          }
        };
      })
    }
  ],
  graphic: [
    { type: 'text', x: 342, y: 35, style: { text: 'Cost-effectiveness plane', font: '18.5px ' + SERIF, fill: '#1c2a4e', align: 'center', verticalAlign: 'middle', textAlign: 'center', textVerticalAlign: 'middle' } },
    { type: 'text', x: 943, y: 35, style: { text: 'Cost-effectiveness acceptability curve', font: '18.5px ' + SERIF, fill: '#1c2a4e', align: 'center', verticalAlign: 'middle', textAlign: 'center', textVerticalAlign: 'middle' } },
    { type: 'text', x: 336, y: 421, style: { text: 'Incremental QALY', font: '16px ' + SERIF, fill: '#111', align: 'center', verticalAlign: 'middle', textAlign: 'center', textVerticalAlign: 'middle' } },
    { type: 'text', x: 945, y: 421, style: { text: 'Willingness to pay (per QALY gained)', font: '16px ' + SERIF, fill: '#111', align: 'center', verticalAlign: 'middle', textAlign: 'center', textVerticalAlign: 'middle' } },
    { type: 'text', x: 35, y: 215, rotation: Math.PI / 2, style: { text: 'Incremental Costs', font: '16px ' + SERIF, fill: '#111', align: 'center', verticalAlign: 'middle', textAlign: 'center', textVerticalAlign: 'middle' } },
    { type: 'text', x: 635, y: 203, rotation: Math.PI / 2, style: { text: 'Probability cost-effective', font: '16px ' + SERIF, fill: '#111', align: 'center', verticalAlign: 'middle', textAlign: 'center', textVerticalAlign: 'middle' } },
    { type: 'text', x: 205, y: 73, style: { text: gbp(wtpThresholds[0]) + '/QALY', font: '14px ' + SERIF, fill: '#111', align: 'left', verticalAlign: 'middle', textAlign: 'left', textVerticalAlign: 'middle' } },
    { type: 'text', x: 341, y: 69, style: { text: gbp(wtpThresholds[1]) + '/QALY', font: '14px ' + SERIF, fill: '#111', align: 'left', verticalAlign: 'middle', textAlign: 'left', textVerticalAlign: 'middle' } }
  ]
};

chart.setOption(option);
</script>
</body>
</html>
